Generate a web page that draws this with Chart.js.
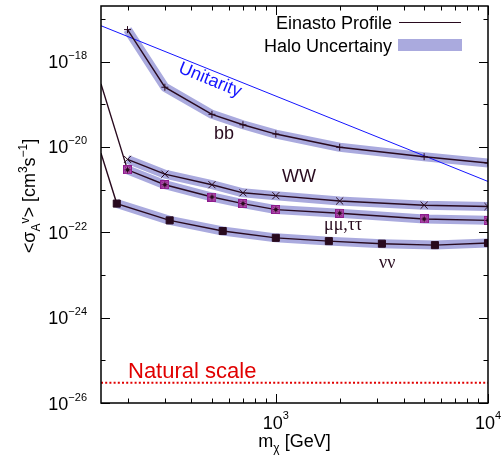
<!DOCTYPE html>
<html><head><meta charset="utf-8">
<script src="https://cdn.jsdelivr.net/npm/chart.js@4.4.1/dist/chart.umd.min.js"></script>
<style>html,body{margin:0;padding:0;background:#fff;overflow:hidden}canvas{display:block}</style>
</head><body>
<canvas id="c" width="501" height="468"></canvas>
<script>
// ---- data ----
const massBB = [200, 300, 500, 700, 1000, 2000, 5000, 10000];
const sigmaBB = [5.6e-18, 2.5e-19, 5.8e-20, 3.3e-20, 2.0e-20, 9.8e-21, 5.9e-21, 4.2e-21];
const massWW = [200, 300, 500, 700, 1000, 2000, 5000, 10000];
const sigmaWW = [5.1e-21, 2.3e-21, 1.3e-21, 8.4e-22, 7.2e-22, 5.4e-22, 4.3e-22, 4.0e-22];
const massMuTau = [150, 200, 300, 500, 700, 1000, 2000, 5000, 10000];
const sigmaMuTau = [3.0e-19, 2.9e-21, 1.3e-21, 6.7e-22, 4.7e-22, 3.4e-22, 2.8e-22, 2.05e-22, 1.9e-22];
const massNuNu = [150, 178, 316, 562, 1000, 1778, 3162, 5623, 10000];
const sigmaNuNu = [7.1e-21, 4.7e-22, 1.9e-22, 1.07e-22, 7.4e-23, 6.2e-23, 5.4e-23, 5.0e-23, 5.6e-23];
const massUnitarity = [150, 10000];
const sigmaUnitarity = [6.9e-18, 1.55e-21];
const massNatural = [150, 10000];
const sigmaNatural = [3e-26, 3e-26];
// first index that carries a marker / halo band (earlier points are only connecting line)
const firstMarkerMuTau = 1;
const firstMarkerNuNu = 1;

// ---- axes ----
const xMin = 150, xMax = 10000;
const yMin = 1e-26, yMax = 2e-17;
const xMajorTicks = [1000, 10000];
const xMajorExponents = ['3', '4'];
const xMinorTicks = [200, 300, 400, 500, 600, 700, 800, 900, 2000, 3000, 4000, 5000, 6000, 7000, 8000, 9000];
const yTickExponents = [-26, -25, -24, -23, -22, -21, -20, -19, -18, -17];
const yLabelExponents = [-26, -24, -22, -20, -18];

const FONT = '"Liberation Sans", Arial, Helvetica, sans-serif';
const SERIF = '"Liberation Serif", "DejaVu Serif", serif';
const DARK = 'rgb(40,10,30)';
const BAND = 'rgb(170,170,222)';

const pts = (xs, ys) => xs.map((x, i) => ({x, y: ys[i]}));

function muMarker() {
  const c = document.createElement('canvas'); c.width = 9; c.height = 9;
  const g = c.getContext('2d');
  g.fillStyle = '#c058bc'; g.fillRect(0, 0, 9, 9);
  g.strokeStyle = '#8c1c8c'; g.lineWidth = 1.2; g.strokeRect(0.6, 0.6, 7.8, 7.8);
  g.strokeStyle = DARK; g.lineWidth = 1;
  g.beginPath();
  g.moveTo(4.5, 1.5); g.lineTo(4.5, 7.5);
  g.moveTo(1.5, 4.5); g.lineTo(7.5, 4.5);
  g.moveTo(2.4, 2.4); g.lineTo(6.6, 6.6);
  g.moveTo(6.6, 2.4); g.lineTo(2.4, 6.6);
  g.stroke();
  return c;
}
const MU = muMarker();

function band(xs, ys, start) {
  return {data: pts(xs.slice(start), ys.slice(start)), borderColor: BAND, borderWidth: 9,
          pointRadius: 0, order: 5, clip: 0, borderCapStyle: 'butt', borderJoinStyle: 'round'};
}
function curve(xs, ys, start, style, radius, extra) {
  return Object.assign({data: pts(xs, ys), borderColor: DARK, borderWidth: 1.4, order: 1, clip: 0,
    pointStyle: style,
    pointRadius: ctx => ctx.dataIndex < start ? 0 : radius,
    pointBorderColor: DARK, pointBackgroundColor: DARK, pointBorderWidth: 1}, extra || {});
}

const datasets = [
  band(massBB, sigmaBB, 0),
  band(massWW, sigmaWW, 0),
  band(massMuTau, sigmaMuTau, firstMarkerMuTau),
  band(massNuNu, sigmaNuNu, firstMarkerNuNu),
  {data: pts(massUnitarity, sigmaUnitarity), borderColor: 'rgb(20,20,255)', borderWidth: 1, pointRadius: 0, order: 3, clip: 0},
  {data: pts(massNatural, sigmaNatural), borderColor: 'rgb(225,0,0)', borderWidth: 2, borderDash: [2, 2.2], pointRadius: 0, order: 3, clip: 0},
  curve(massBB, sigmaBB, 0, 'cross', 3.5),
  curve(massWW, sigmaWW, 0, 'crossRot', 5),
  curve(massMuTau, sigmaMuTau, firstMarkerMuTau, MU, 4.5),
  curve(massNuNu, sigmaNuNu, firstMarkerNuNu, 'rect', 5),
];

function drawRich(ctx, parts, x, y, align) {
  let w = 0;
  parts.forEach(p => { ctx.font = `${p.size}px ${p.family || FONT}`; p.w = ctx.measureText(p.t).width; w += p.w; });
  let cx = align === 'right' ? x - w : align === 'center' ? x - w / 2 : x;
  ctx.textAlign = 'left'; ctx.textBaseline = 'alphabetic';
  parts.forEach(p => { ctx.font = `${p.size}px ${p.family || FONT}`; ctx.fillText(p.t, cx, y + (p.dy || 0)); cx += p.w; });
}

const decor = {
  id: 'decor',
  afterDraw(chart) {
    const {ctx, chartArea: a, scales: {x, y}} = chart;
    ctx.save();
    ctx.strokeStyle = '#000'; ctx.fillStyle = '#000';
    // ticks
    ctx.lineWidth = 1;
    ctx.beginPath();
    yTickExponents.forEach(e => {
      const py = Math.round(y.getPixelForValue(Math.pow(10, e))) + 0.5;
      const len = yLabelExponents.includes(e) ? 9 : 4.5;
      ctx.moveTo(a.left, py); ctx.lineTo(a.left + len, py);
      ctx.moveTo(a.right, py); ctx.lineTo(a.right - len, py);
    });
    xMajorTicks.forEach(v => {
      const px = Math.round(x.getPixelForValue(v)) + 0.5;
      ctx.moveTo(px, a.bottom); ctx.lineTo(px, a.bottom - 9);
      ctx.moveTo(px, a.top); ctx.lineTo(px, a.top + 9);
    });
    xMinorTicks.forEach(v => {
      const px = Math.round(x.getPixelForValue(v)) + 0.5;
      ctx.moveTo(px, a.bottom); ctx.lineTo(px, a.bottom - 4.5);
      ctx.moveTo(px, a.top); ctx.lineTo(px, a.top + 4.5);
    });
    ctx.stroke();
    // frame
    ctx.lineWidth = 1.5;
    ctx.strokeRect(a.left, a.top, a.right - a.left, a.bottom - a.top);
    // tick labels
    ctx.fillStyle = '#000';
    yLabelExponents.forEach(e => {
      const py = y.getPixelForValue(Math.pow(10, e));
      drawRich(ctx, [{t: '10', size: 18}, {t: '\u2212' + Math.abs(e), size: 11, dy: -9}], a.left - 14, py + 6.5, 'right');
    });
    xMajorTicks.forEach((v, i) => {
      const px = x.getPixelForValue(v);
      drawRich(ctx, [{t: '10', size: 18}, {t: xMajorExponents[i], size: 11, dy: -10}], px, 429, 'center');
    });
    // axis titles
    drawRich(ctx, [{t: 'm', size: 18}, {t: '\u03c7', size: 12, dy: 5}, {t: ' [GeV]', size: 18}], (a.left + a.right) / 2, 447, 'center');
    ctx.save();
    ctx.translate(35, 196); ctx.rotate(-Math.PI / 2);
    drawRich(ctx, [{t: '<\u03c3', size: 18}, {t: 'A', size: 12, dy: 5}, {t: 'v', size: 12, dy: -6}, {t: '> [cm', size: 18},
      {t: '3', size: 12, dy: -8}, {t: 's', size: 18}, {t: '\u22121', size: 12, dy: -8}, {t: ']', size: 18}], 0, 0, 'center');
    ctx.restore();
    // curve labels
    ctx.fillStyle = DARK;
    ctx.textAlign = 'left'; ctx.textBaseline = 'alphabetic';
    ctx.font = `18px ${FONT}`;
    ctx.fillText('bb', 214, 139);
    ctx.fillText('WW', 282, 182);
    ctx.font = `18px ${SERIF}`;
    ctx.fillText('\u03bc\u03bc,\u03c4\u03c4', 324, 230);
    ctx.fillText('\u03bd\u03bd', 379, 268);
    // unitarity
    ctx.save();
    ctx.fillStyle = 'rgb(20,20,255)';
    ctx.translate(210, 80); ctx.rotate(Math.atan2(157, 387));
    ctx.font = `18px ${FONT}`; ctx.textAlign = 'center'; ctx.textBaseline = 'middle';
    ctx.fillText('Unitarity', 0, 0);
    ctx.restore();
    // natural scale
    ctx.fillStyle = 'rgb(225,0,0)';
    ctx.font = `22px ${FONT}`; ctx.textAlign = 'left'; ctx.textBaseline = 'alphabetic';
    ctx.fillText('Natural scale', 128, 378);
    // legend
    ctx.fillStyle = '#000';
    ctx.font = `18px ${FONT}`; ctx.textAlign = 'right';
    ctx.fillText('Einasto Profile', 392, 29);
    ctx.fillText('Halo Uncertainy', 392, 52);
    ctx.strokeStyle = DARK; ctx.lineWidth = 1.2;
    ctx.beginPath(); ctx.moveTo(399, 22.5); ctx.lineTo(461, 22.5); ctx.stroke();
    ctx.fillStyle = BAND; ctx.fillRect(398, 39, 64, 12);
    ctx.restore();
  }
};

new Chart(document.getElementById('c'), {
  type: 'line',
  data: {datasets},
  options: {
    responsive: false, animation: false, devicePixelRatio: 1,
    layout: {padding: {left: 101, right: 13, top: 3, bottom: 65}},
    plugins: {legend: {display: false}, tooltip: {enabled: false}},
    scales: {
      x: {type: 'logarithmic', min: xMin, max: xMax, display: false},
      y: {type: 'logarithmic', min: yMin, max: yMax, display: false}
    }
  },
  plugins: [decor]
});
</script>
</body></html>
